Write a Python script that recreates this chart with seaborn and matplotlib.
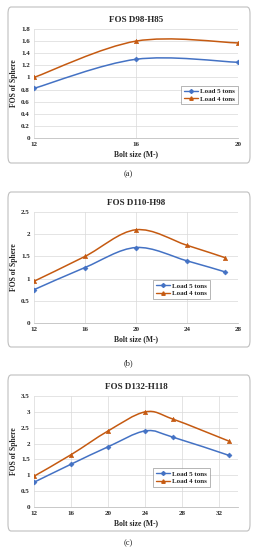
import numpy as np
import matplotlib.pyplot as plt
import seaborn as sns
from matplotlib.path import Path
from matplotlib.patches import PathPatch, FancyBboxPatch
from matplotlib.lines import Line2D

# panel (a) FOS D98-H85
bolt_a = [12, 16, 20]
load5_a = [0.82, 1.30, 1.25]
load4_a = [1.00, 1.60, 1.57]

# panel (b) FOS D110-H98
bolt_b = [12, 16, 20, 24, 27]
load5_b = [0.75, 1.25, 1.70, 1.40, 1.15]
load4_b = [0.94, 1.50, 2.10, 1.75, 1.47]

# panel (c) FOS D132-H118
bolt_c = [12, 16, 20, 24, 27, 33]
load5_c = [0.78, 1.35, 1.90, 2.40, 2.20, 1.63]
load4_c = [0.97, 1.65, 2.40, 3.00, 2.77, 2.08]

titles = ["FOS D98-H85", "FOS D110-H98", "FOS D132-H118"]
captions = ["(a)", "(b)", "(c)"]
series_names = ["Load 5 tons", "Load 4 tons"]

BLUE = "#4472C4"
ORANGE = "#C55A11"

sns.set_style("white")
plt.rcParams["font.family"] = ["Liberation Serif", "DejaVu Serif"]

W, H = 257, 550
fig = plt.figure(figsize=(W / 100, H / 100), dpi=100)


def px_rect(x0, y0, x1, y1):
    return [x0 / W, 1 - y1 / H, (x1 - x0) / W, (y1 - y0) / H]


def smooth_curve(ax, xs, ys, color):
    # Excel-style smoothed line: cubic bezier segments through the points
    xs = np.asarray(xs, float)
    ys = np.asarray(ys, float)
    n = len(xs)
    verts = [(xs[0], ys[0])]
    codes = [Path.MOVETO]
    for i in range(n - 1):
        p0 = (xs[max(i - 1, 0)], ys[max(i - 1, 0)])
        p1 = (xs[i], ys[i])
        p2 = (xs[i + 1], ys[i + 1])
        p3 = (xs[min(i + 2, n - 1)], ys[min(i + 2, n - 1)])
        c1 = (p1[0] + (p2[0] - p0[0]) / 6, p1[1] + (p2[1] - p0[1]) / 6)
        c2 = (p2[0] - (p3[0] - p1[0]) / 6, p2[1] - (p3[1] - p1[1]) / 6)
        verts += [c1, c2, p2]
        codes += [Path.CURVE4] * 3
    ax.add_patch(PathPatch(Path(verts, codes), facecolor="none",
                           edgecolor=color, lw=1.1, zorder=3))


panels = [
    (bolt_a, load5_a, load4_a, (12, 20), [12, 16, 20], (0, 1.8), 0.2,
     (8, 7, 250, 163), (34, 29, 238, 138), (187, 86, 232, 104), 174),
    (bolt_b, load5_b, load4_b, (12, 28), [12, 16, 20, 24, 28], (0, 2.5), 0.5,
     (8, 192, 250, 347), (34, 212, 238, 323), (159, 280, 204, 299), 363),
    (bolt_c, load5_c, load4_c, (12, 34), [12, 16, 20, 24, 28, 32], (0, 3.5), 0.5,
     (8, 375, 250, 531), (34, 396, 238, 507), (159, 468, 204, 487), 543),
]

for k, (bolt, l5, l4, xlim, xticks, ylim, ystep, box, axr, legr, cap_y) in enumerate(panels):
    # rounded frame around each chart
    bx = px_rect(*box)
    fig.patches.append(FancyBboxPatch((bx[0], bx[1]), bx[2], bx[3],
                                      boxstyle="round,pad=0,rounding_size=0.012",
                                      transform=fig.transFigure, facecolor="none",
                                      edgecolor="#BFBFBF", lw=0.8, zorder=-1))
    ax = fig.add_axes(px_rect(*axr))
    ax.set_facecolor("none")

    smooth_curve(ax, bolt, l5, BLUE)
    smooth_curve(ax, bolt, l4, ORANGE)
    sns.scatterplot(x=bolt, y=l5, ax=ax, marker="D", s=6, color=BLUE,
                    edgecolor=BLUE, linewidth=0.5, zorder=4)
    sns.scatterplot(x=bolt, y=l4, ax=ax, marker="^", s=9, color=ORANGE,
                    edgecolor=ORANGE, linewidth=0.5, zorder=4)

    ax.set_xlim(*xlim)
    ax.set_ylim(*ylim)
    ax.set_xticks(xticks)
    yt = np.round(np.arange(ylim[0], ylim[1] + ystep / 2, ystep), 2)
    ax.set_yticks(yt)
    ax.set_yticklabels([f"{v:g}" for v in yt])
    ax.grid(True, color="#D9D9D9", lw=0.5)
    ax.set_axisbelow(True)
    for s in ["top", "right", "left"]:
        ax.spines[s].set_visible(False)
    ax.spines["bottom"].set_color("#BFBFBF")
    ax.spines["bottom"].set_linewidth(0.6)
    ax.tick_params(length=0, labelsize=5, pad=3)
    for lab in ax.get_xticklabels() + ax.get_yticklabels():
        lab.set_fontweight("bold")

    ax.set_title(titles[k], fontsize=6.5, fontweight="bold", pad=5)
    ax.set_xlabel("Bolt size (M-)", fontsize=5.5, fontweight="bold", labelpad=2)
    ax.set_ylabel("FOS of Sphere", fontsize=5.5, fontweight="bold", labelpad=2)

    handles = [Line2D([], [], color=BLUE, marker="D", markersize=2, lw=1),
               Line2D([], [], color=ORANGE, marker="^", markersize=2.5, lw=1)]
    lr = px_rect(*legr)
    leg = ax.legend(handles, series_names, loc="center",
                    bbox_to_anchor=(lr[0] + lr[2] / 2, lr[1] + lr[3] / 2),
                    bbox_transform=fig.transFigure, fontsize=5, frameon=True,
                    fancybox=False, edgecolor="#7F7F7F", handlelength=2.0,
                    borderpad=0.35, labelspacing=0.25, handletextpad=0.4)
    leg.get_frame().set_linewidth(0.5)
    for t in leg.get_texts():
        t.set_fontweight("bold")

    fig.text(0.5, 1 - cap_y / H, captions[k], ha="center", va="center", fontsize=6)

fig.savefig("out.png", dpi=100)
